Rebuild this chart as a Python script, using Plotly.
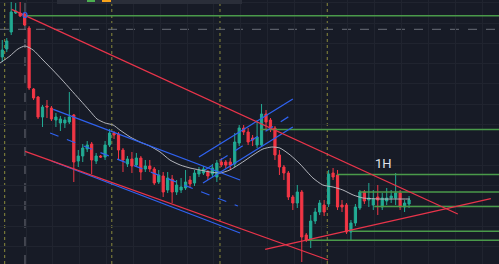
import plotly.graph_objects as go

# ---- candle data (x = bar index, y = price) ----
opens = [207,215,232,251,251,250,236,175,167,147,
         158,156,144,141,141,142,149,103,108,115,
         120,103,108,107,119,131,130,114,100,105,
         99,106,95,98,95,82,88,74,85,72,
         74,76,84,81,90,91,92,90,87,102,
         102,102,100,121,136,132,126,119,119,150,
         144,136,109,97,91,67,61,72,29,24,
         43,52,59,60,91,89,59,59,32,41,
         56,72,64,59,67,57,63,66,66,71,
         57,60]
closes = [214,223,252,253,248,239,176,166,147,157,
          157,145,147,145,144,147,102,108,116,119,
          104,108,107,119,131,129,114,104,105,98,
          106,92,98,95,81,89,72,86,72,79,
          77,82,80,91,94,95,88,96,101,99,
          99,99,122,136,132,122,124,127,150,142,
          136,109,97,91,67,61,72,27,24,43,
          52,61,52,90,87,57,57,32,41,57,
          72,63,66,65,64,66,66,68,71,57,
          61,64]
highs = [224,226,262,261,262,251,238,176,168,159,
         164,158,151,148,147,172,150,114,120,123,
         122,111,109,123,135,133,132,116,108,112,
         111,108,104,104,97,94,92,92,89,84,
         86,94,88,94,97,98,94,100,104,106,
         104,106,131,139,139,136,129,144,160,154,
         146,138,114,99,93,69,79,74,31,49,
         56,64,64,94,96,94,64,61,44,60,
         74,74,81,74,79,71,76,74,91,74,
         64,68]
lows = [202,212,229,250,247,238,174,164,145,137,
        146,143,137,133,136,140,82,97,102,112,
        90,100,106,104,117,125,104,92,97,91,
        97,84,92,92,79,80,67,71,61,69,
        71,74,76,78,87,89,84,87,82,97,
        96,94,97,118,129,119,118,116,117,135,
        132,104,89,84,64,54,56,2,22,16,
        40,49,48,57,84,54,52,30,24,38,
        54,60,57,54,49,54,59,61,59,54,
        52,56]
bars = list(range(len(opens)))

# moving average
ma_x = [-0.5,1.7,3.5,5.1,6.9,9.1,11.3,13.4,15.2,17.4,19.6,21.2,23.0,24.8,26.3,28.6,30.8,33.0,
        35.3,37.5,39.8,42.0,44.2,46.5,48.7,50.9,53.8,56.1,58.3,60.3,62.1,64.4,66.6,69.5,71.7,
        74.0,76.2,78.5,80.7,84.5,88.3,91.2]
ma_y = [201,208,215,218,214,204,194,184,175,164,153,145,141,139,134,127,122,118,
        112,104,99,96,94,92,91,94,102,109,115,117,116,109,100,86,79,
        77,74,69,66,65,65,65]

# drawing tools: trend lines (bar index, price)
red_lines = [(2.1, 254.7, 101.9, 50.0),
             (5.1, 112.7, 72.9, 4.0),
             (58.8, 14.7, 109.3, 65.3)]
blue_lines = [(11.4, 154.7, 53.2, 84.0),
              (11.05, 103.0, 53.2, 31.0),
              (44.0, 107.0, 65.0, 165.0),
              (44.9, 81.0, 65.0, 137.0)]
blue_dashed = [(10.7, 131.0, 52.7, 58.0),
               (45.3, 94.0, 65.0, 150.0)]
green_levels = [(5.1, 248.3), (57.7, 134.5), (74.9, 89.5), (80.0, 72.0),
                (83.2, 57.5), (78.2, 32.7), (68.2, 23.7)]
dashed_level = 234.7
session_marks = [0.54, 24.5, 48.7, 72.7]
cursor_bar = 5.08
label_pos = (85.3, 101.0)

X_MIN, X_MAX = -0.51, 111.12
Y_MIN, Y_MAX = 0, 264

BG = "#171b26"
UP = "#22ab94"
DN = "#f23645"
RED = "#e8344a"
BLUE = "#2f62f0"
GREEN = "#4a9a4a"

fig = go.Figure()

fig.add_trace(go.Scatter(x=ma_x, y=ma_y, mode="lines",
                         line=dict(color="#b4b6bd", width=1, shape="spline", smoothing=0.6),
                         hoverinfo="skip"))

fig.add_trace(go.Candlestick(
    x=bars, open=opens, high=highs, low=lows, close=closes,
    increasing=dict(line=dict(color=UP, width=1), fillcolor=UP),
    decreasing=dict(line=dict(color=DN, width=1), fillcolor=DN),
    whiskerwidth=0))

shapes = []
for xv in session_marks:
    shapes.append(dict(type="line", xref="x", yref="paper", x0=xv, x1=xv, y0=0, y1=1,
                       line=dict(color="#8a8a3c", width=1, dash="dot"), layer="below"))
shapes.append(dict(type="line", xref="x", yref="paper", x0=cursor_bar, x1=cursor_bar, y0=0, y1=1,
                   line=dict(color="#6b6e78", width=1, dash="dash"), layer="below"))
shapes.append(dict(type="line", xref="paper", yref="y", x0=0, x1=1, y0=dashed_level, y1=dashed_level,
                   line=dict(color="#6b6e78", width=1, dash="dash"), layer="below"))
for x0, lvl in green_levels:
    shapes.append(dict(type="line", xref="x", yref="y", x0=x0, x1=X_MAX, y0=lvl, y1=lvl,
                       line=dict(color=GREEN, width=1.5)))
for x0, y0, x1, y1 in blue_lines:
    shapes.append(dict(type="line", xref="x", yref="y", x0=x0, y0=y0, x1=x1, y1=y1,
                       line=dict(color=BLUE, width=1.3)))
for x0, y0, x1, y1 in blue_dashed:
    shapes.append(dict(type="line", xref="x", yref="y", x0=x0, y0=y0, x1=x1, y1=y1,
                       line=dict(color=BLUE, width=1.2, dash="dash")))
for x0, y0, x1, y1 in red_lines:
    shapes.append(dict(type="line", xref="x", yref="y", x0=x0, y0=y0, x1=x1, y1=y1,
                       line=dict(color=RED, width=1.3)))
# small marker circle at top of cursor line
shapes.append(dict(type="circle", xref="x", yref="y", x0=cursor_bar - 0.45, x1=cursor_bar + 0.45,
                   y0=246.5, y1=251.5, line=dict(color=BLUE, width=1.2)))
# floating toolbar cut at the top edge
shapes.append(dict(type="rect", xref="paper", yref="paper", x0=57/499, x1=242/499, y0=1-4/264, y1=1.02,
                   line=dict(width=0), fillcolor="#2a2e39"))
shapes.append(dict(type="rect", xref="paper", yref="paper", x0=87/499, x1=95/499, y0=1-2/264, y1=1.02,
                   line=dict(width=0), fillcolor="#4caf50"))
shapes.append(dict(type="rect", xref="paper", yref="paper", x0=102/499, x1=111/499, y0=1-2/264, y1=1.02,
                   line=dict(width=0), fillcolor="#f7a21b"))

fig.update_layout(
    width=499, height=264,
    margin=dict(l=0, r=0, t=0, b=0),
    paper_bgcolor=BG, plot_bgcolor=BG,
    showlegend=False,
    shapes=shapes,
    annotations=[dict(x=label_pos[0], y=label_pos[1], xref="x", yref="y", text="1H",
                      showarrow=False, font=dict(family="Roboto", size=13, color="#e0e2e8"))],
    xaxis=dict(range=[X_MIN, X_MAX], showticklabels=False, zeroline=False,
               showgrid=True, gridcolor="#20242f", gridwidth=1, tick0=-0.67, dtick=6,
               rangeslider=dict(visible=False), fixedrange=True),
    yaxis=dict(range=[Y_MIN, Y_MAX], showticklabels=False, zeroline=False,
               showgrid=True, gridcolor="#20242f", gridwidth=1, tick0=220.7, dtick=20.3,
               fixedrange=True),
)

fig.write_html("out.html", config={"displayModeBar": False})
